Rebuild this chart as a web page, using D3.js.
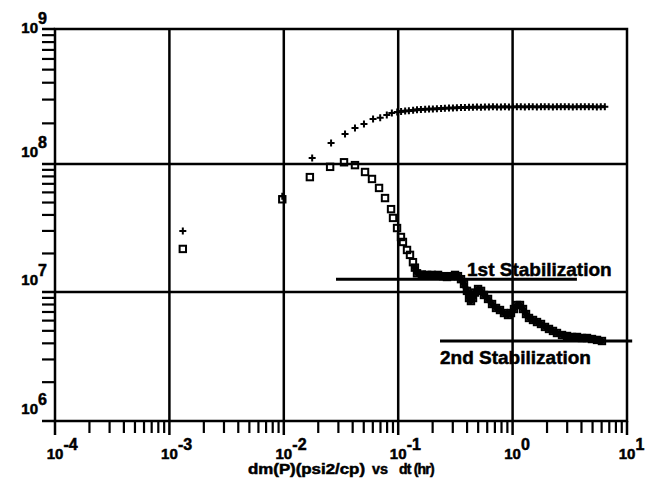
<!DOCTYPE html>
<html><head><meta charset="utf-8">
<script src="https://cdn.jsdelivr.net/npm/d3@7"></script>
<style>
body{margin:0;background:#fff}
svg{display:block}
text{font-family:"Liberation Sans",Arial,sans-serif;font-weight:bold;fill:#000;stroke:#000;stroke-width:0.5}
</style>
</head><body>
<svg id="c" width="655" height="481"></svg>
<script>
// ---- data ----
const xDecades = [-4, -3, -2, -1, 0, 1];
const yDecades = [6, 7, 8, 9];
const xTickExpLabels = ["-4", "-3", "-2", "-1", "0", "1"];
const yTickExpLabels = ["6", "7", "8", "9"];

// m(P) (plotted with "+")
const pTime = [0.00131, 0.0097, 0.0177, 0.0259, 0.0343, 0.0419, 0.0502, 0.0603, 0.0696, 0.0795, 0.088,
  0.098, 0.106, 0.115, 0.124, 0.135, 0.146, 0.158, 0.172, 0.186, 0.201,
  0.218, 0.237, 0.256, 0.278, 0.301, 0.326, 0.354, 0.383, 0.416, 0.450,
  0.488, 0.529, 0.573, 0.621, 0.673, 0.730, 0.791, 0.857, 0.929, 1.007,
  1.09, 1.18, 1.28, 1.39, 1.50, 1.63, 1.77, 1.91, 2.07, 2.25,
  2.44, 2.64, 2.86, 3.10, 3.36, 3.64, 3.95, 4.28, 4.64, 5.03,
  5.45, 5.90, 6.40];
const pValue = [3.0e7, 5.6e7, 1.11e8, 1.43e8, 1.67e8, 1.85e8, 1.98e8, 2.15e8, 2.2e8, 2.31e8, 2.39e8,
  2.43e8, 2.45e8, 2.47e8, 2.48e8, 2.50e8, 2.52e8, 2.53e8, 2.54e8, 2.55e8, 2.56e8,
  2.57e8, 2.58e8, 2.59e8, 2.60e8, 2.60e8, 2.61e8, 2.62e8, 2.62e8, 2.63e8, 2.63e8,
  2.64e8, 2.63e8, 2.64e8, 2.64e8, 2.65e8, 2.64e8, 2.64e8, 2.65e8, 2.64e8, 2.64e8,
  2.65e8, 2.65e8, 2.64e8, 2.65e8, 2.65e8, 2.64e8, 2.65e8, 2.65e8, 2.65e8, 2.64e8,
  2.65e8, 2.65e8, 2.65e8, 2.65e8, 2.64e8, 2.65e8, 2.65e8, 2.65e8, 2.65e8, 2.65e8,
  2.64e8, 2.65e8, 2.65e8];

// derivative dm(P) (plotted with squares)
const dTime = [0.00131, 0.0097, 0.0169, 0.0254, 0.0336, 0.0419, 0.0513, 0.059, 0.068, 0.0767,
  0.0866, 0.0901, 0.0977, 0.1057, 0.110, 0.1194, 0.1268, 0.1346, 0.140,
  0.146, 0.161, 0.179, 0.197, 0.223, 0.247, 0.267, 0.290, 0.314, 0.333,
  0.354, 0.376, 0.399, 0.416, 0.4325, 0.451, 0.469, 0.499, 0.530, 0.562,
  0.610, 0.661, 0.716, 0.776, 0.841, 0.912, 0.968, 1.028, 1.092, 1.160,
  1.233, 1.310, 1.391, 1.508, 1.634, 1.771, 1.919, 2.080, 2.254, 2.443,
  2.704, 2.991, 3.306, 3.655, 4.04, 4.47, 4.94, 5.47, 6.04];
const dValue = [2.17e7, 5.3e7, 7.9e7, 9.5e7, 1.03e8, 9.8e7, 8.66e7, 7.64e7, 6.5e7, 5.42e7,
  4.44e7, 3.79e7, 3.16e7, 2.69e7, 2.46e7, 2.13e7, 1.95e7, 1.71e7, 1.55e7,
  1.40e7, 1.37e7, 1.36e7, 1.36e7, 1.36e7, 1.33e7, 1.31e7, 1.33e7, 1.36e7, 1.33e7,
  1.26e7, 1.155e7, 1.02e7, 8.98e6, 8.51e6, 8.98e6, 9.9e6, 1.055e7, 1.02e7, 9.48e6,
  8.83e6, 8.07e6, 7.52e6, 7.25e6, 6.87e6, 6.63e6, 6.87e6, 7.38e6, 7.93e6, 7.93e6,
  7.38e6, 6.75e6, 6.29e6, 6.07e6, 5.85e6, 5.65e6, 5.36e6, 5.17e6, 4.99e6, 4.81e6,
  4.64e6, 4.56e6, 4.48e6, 4.48e6, 4.40e6, 4.40e6, 4.32e6, 4.25e6, 4.17e6];

const stab1Time = [0.0286, 3.65], stab1Value = 1.26e7;
const stab2Time = [0.232, 11.1], stab2Value = 4.17e6;
const stabLabels = ["1st Stabilization", "2nd Stabilization"];
const xTitleParts = ["dm(P)(psi2/cp)", "vs", "dt (hr)"];

// ---- layout ----
const L = 55, R = 627, T = 29, B = 421;
const svg = d3.select("#c");
const x = d3.scaleLog().domain([1e-4, 10]).range([L, R]);
const y = d3.scaleLog().domain([1e6, 1e7, 1e8, 1e9]).range([B, 292, 164, T]);

const g = svg.append("g").attr("stroke", "#000").attr("fill", "none");

// minor ticks
const xMinor = [], yMinor = [];
xDecades.slice(0, -1).forEach(d => { for (let k = 2; k <= 9; k++) xMinor.push(k * Math.pow(10, d)); });
yDecades.slice(0, -1).forEach(d => { for (let k = 2; k <= 9; k++) yMinor.push(k * Math.pow(10, d)); });

g.selectAll(".xm").data(xMinor).join("line")
  .attr("x1", d => x(d)).attr("x2", d => x(d)).attr("y1", B).attr("y2", B + 12)
  .attr("stroke-width", 2.2);
g.selectAll(".ym").data(yMinor).join("line")
  .attr("y1", d => y(d)).attr("y2", d => y(d)).attr("x1", L - 13).attr("x2", L)
  .attr("stroke-width", 2.2);

// major ticks (extended)
g.selectAll(".xM").data(xDecades).join("line")
  .attr("x1", d => x(Math.pow(10, d))).attr("x2", d => x(Math.pow(10, d)))
  .attr("y1", B).attr("y2", B + 14).attr("stroke-width", 2.5);
g.selectAll(".yM").data(yDecades).join("line")
  .attr("y1", d => y(Math.pow(10, d))).attr("y2", d => y(Math.pow(10, d)))
  .attr("x1", L - 13).attr("x2", L).attr("stroke-width", 2.5);

// grid lines
g.selectAll(".gx").data(xDecades.slice(1, -1)).join("line")
  .attr("x1", d => x(Math.pow(10, d))).attr("x2", d => x(Math.pow(10, d)))
  .attr("y1", T).attr("y2", B).attr("stroke-width", 2.5);
g.selectAll(".gy").data(yDecades.slice(1, -1)).join("line")
  .attr("y1", d => y(Math.pow(10, d))).attr("y2", d => y(Math.pow(10, d)))
  .attr("x1", L).attr("x2", R).attr("stroke-width", 2.5);

// frame
g.append("rect").attr("x", L).attr("y", T).attr("width", R - L).attr("height", B - T)
  .attr("stroke-width", 2.5);

// tick labels
const tl = svg.append("g").style("font-size", "15px");
xDecades.forEach((d, i) => {
  const px = x(Math.pow(10, d));
  tl.append("text").attr("x", px).attr("y", 459).attr("text-anchor", "middle").text("10");
  tl.append("text").attr("x", px + 8.5).attr("y", 450).style("font-size", "16px").text(xTickExpLabels[i]);
});
yDecades.forEach((d, i) => {
  const py = Math.max(y(Math.pow(10, d)) - 7, 33);
  tl.append("text").attr("x", 38).attr("y", py).attr("text-anchor", "end").text("10");
  tl.append("text").attr("x", 38).attr("y", py - 9).style("font-size", "16px").text(yTickExpLabels[i]);
});

// axis title
const tt = svg.append("g").style("font-size", "14px");
tt.append("text").attr("x", 248).attr("y", 474).attr("textLength", 117).attr("lengthAdjust", "spacingAndGlyphs").text(xTitleParts[0]);
tt.append("text").attr("x", 372).attr("y", 474).attr("textLength", 16).attr("lengthAdjust", "spacingAndGlyphs").text(xTitleParts[1]);
tt.append("text").attr("x", 399).attr("y", 474).attr("font-size", 14).style("letter-spacing", "-0.8px").text(xTitleParts[2]);

// stabilization lines
svg.append("line").attr("x1", x(stab1Time[0])).attr("x2", x(stab1Time[1]))
  .attr("y1", y(stab1Value)).attr("y2", y(stab1Value)).attr("stroke", "#000").attr("stroke-width", 3);
svg.append("line").attr("x1", x(stab2Time[0])).attr("x2", x(stab2Time[1]))
  .attr("y1", y(stab2Value)).attr("y2", y(stab2Value)).attr("stroke", "#000").attr("stroke-width", 3);

// markers
const pData = d3.zip(pTime, pValue);
const dData = d3.zip(dTime, dValue);
const line = d3.line().x(d => x(d[0])).y(d => y(d[1]));

// dense parts read as a solid band
svg.append("path").datum(pData.slice(11)).attr("d", line)
  .attr("fill", "none").attr("stroke", "#000").attr("stroke-width", 3);
svg.append("path").datum(dData.slice(18)).attr("d", line)
  .attr("fill", "none").attr("stroke", "#000").attr("stroke-width", 6)
  .attr("stroke-linejoin", "round").attr("stroke-linecap", "round");

svg.append("g").selectAll("path").data(pData).join("path")
  .attr("transform", d => `translate(${x(d[0])},${y(d[1])})`)
  .attr("d", "M-3.5,0H3.5M0,-3.5V3.5").attr("stroke", "#000").attr("stroke-width", 2);
svg.append("g").selectAll("rect").data(dData).join("rect")
  .attr("x", d => x(d[0]) - 3.2).attr("y", d => y(d[1]) - 3.2).attr("width", 6.4).attr("height", 6.4)
  .attr("fill", "none").attr("stroke", "#000").attr("stroke-width", 2);

// annotations
const an = svg.append("g").style("font-size", "19px");
an.append("text").attr("x", 467).attr("y", 276).text(stabLabels[0]);
an.append("text").attr("x", 440).attr("y", 364).text(stabLabels[1]);
</script>
</body></html>
